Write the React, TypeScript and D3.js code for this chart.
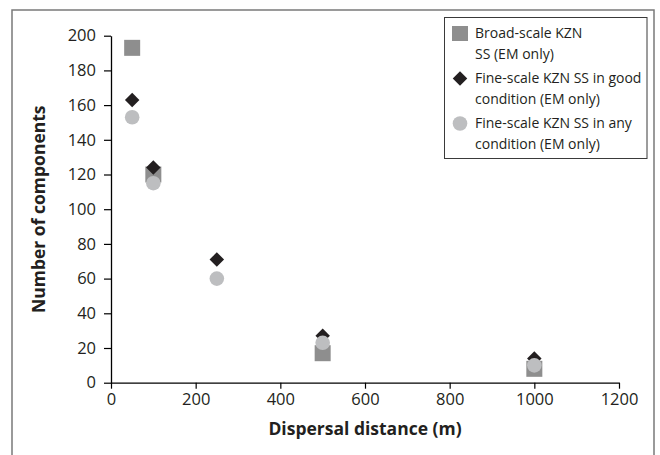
import React, { useRef, useEffect } from 'react';
import { select, scaleLinear, axisBottom, axisLeft, symbol, symbolSquare, format } from 'd3';

// values
const distances = [50, 100, 250, 500, 1000];
const broadScale = [193, 120, null, 17, 8];
const fineGood = [163, 124, 71, 27, 14];
const fineAny = [153, 115, 60, 23, 10];

const xTicks = [0, 200, 400, 600, 800, 1000, 1200];
const yTicks = [0, 20, 40, 60, 80, 100, 120, 140, 160, 180, 200];

const legendItems = [
  { kind: 'square', lines: ['Broad-scale KZN', 'SS (EM only)'] },
  { kind: 'diamond', lines: ['Fine-scale KZN SS in good', 'condition (EM only)'] },
  { kind: 'circle', lines: ['Fine-scale KZN SS in any', 'condition (EM only)'] },
];

const W = 660;
const H = 455;
const font = '"Open Sans", sans-serif';
const SQ = '#8e8e8e';
const DM = '#231f20';
const CI = '#bdbec0';

const App = () => {
  const svgRef = useRef<SVGSVGElement>(null);

  useEffect(() => {
    const svg = select(svgRef.current);
    svg.selectAll('*').remove();

    const x = scaleLinear().domain([0, 1200]).range([111, 619]);
    const y = scaleLinear().domain([0, 200]).range([382.7, 35.7]);

    // outer frame (bottom edge falls outside the picture)
    svg.append('path')
      .attr('d', `M12,${H + 5} L12,10 L654,10 L654,${H + 5}`)
      .attr('fill', 'none')
      .attr('stroke', '#7a7a7a')
      .attr('stroke-width', 1.5);

    const gx = svg.append('g')
      .attr('transform', `translate(0,${y(0)})`)
      .call(axisBottom(x).tickValues(xTicks).tickFormat(format('d')).tickSize(6).tickPadding(5).tickSizeOuter(0));
    const gy = svg.append('g')
      .attr('transform', `translate(${x(0)},0)`)
      .call(axisLeft(y).tickValues(yTicks).tickSize(7).tickPadding(8).tickSizeOuter(0));

    [gx, gy].forEach(g => {
      g.select('.domain').attr('stroke', '#000').attr('stroke-width', 1.3);
      g.selectAll('.tick line').attr('stroke', '#000').attr('stroke-width', 1.2);
      g.selectAll('.tick text')
        .attr('fill', '#231f20')
        .style('font-family', font)
        .style('font-size', '16.5px');
    });

    // axis titles
    svg.append('text')
      .attr('x', (x(0) + x(1200)) / 2)
      .attr('y', 435)
      .attr('text-anchor', 'middle')
      .style('font-family', font)
      .style('font-size', '17.5px')
      .style('font-weight', 'bold')
      .attr('fill', '#231f20')
      .text('Dispersal distance (m)');

    svg.append('text')
      .attr('transform', `translate(45,${(y(0) + y(200)) / 2}) rotate(-90)`)
      .attr('text-anchor', 'middle')
      .style('font-family', font)
      .style('font-size', '17.5px')
      .style('font-weight', 'bold')
      .attr('fill', '#231f20')
      .text('Number of components');

    // square turned 45 degrees
    const diamond = symbol().type(symbolSquare).size(105);

    // broad-scale squares
    svg.append('g').selectAll('rect')
      .data(distances.map((d, i) => [d, broadScale[i]]).filter(d => d[1] != null))
      .join('rect')
      .attr('x', d => x(d[0] as number) - 8)
      .attr('y', d => y(d[1] as number) - 8)
      .attr('width', 16)
      .attr('height', 16)
      .attr('fill', SQ);

    // fine-scale good condition diamonds
    svg.append('g').selectAll('path')
      .data(distances.map((d, i) => [d, fineGood[i]]))
      .join('path')
      .attr('d', diamond)
      .attr('transform', d => `translate(${x(d[0])},${y(d[1])}) rotate(45)`)
      .attr('fill', DM);

    // fine-scale any condition circles
    svg.append('g').selectAll('circle')
      .data(distances.map((d, i) => [d, fineAny[i]]))
      .join('circle')
      .attr('cx', d => x(d[0]))
      .attr('cy', d => y(d[1]))
      .attr('r', 7.3)
      .attr('fill', CI);

    // legend
    const lg = svg.append('g');
    lg.append('rect')
      .attr('x', 444.5)
      .attr('y', 17.5)
      .attr('width', 202.5)
      .attr('height', 141)
      .attr('fill', '#fff')
      .attr('stroke', '#3a3a3a')
      .attr('stroke-width', 1);

    legendItems.forEach((item, i) => {
      const cy = 33.5 + i * 45;
      if (item.kind === 'square') {
        lg.append('rect').attr('x', 452).attr('y', cy - 7.5).attr('width', 16).attr('height', 15).attr('fill', SQ);
      } else if (item.kind === 'diamond') {
        lg.append('path').attr('d', diamond).attr('transform', `translate(460,${cy}) rotate(45)`).attr('fill', DM);
      } else {
        lg.append('circle').attr('cx', 460).attr('cy', cy).attr('r', 7.3).attr('fill', CI);
      }
      item.lines.forEach((ln, j) => {
        lg.append('text')
          .attr('x', 475)
          .attr('y', cy + j * 20.5)
          .attr('dy', '0.35em')
          .style('font-family', font)
          .style('font-size', '14px')
          .attr('fill', '#231f20')
          .text(ln);
      });
    });
  }, []);

  return (
    <svg ref={svgRef} width={W} height={H}
      style={{ position: 'absolute', left: 0, top: 0, background: '#fff' }} />
  );
};

export default App;
